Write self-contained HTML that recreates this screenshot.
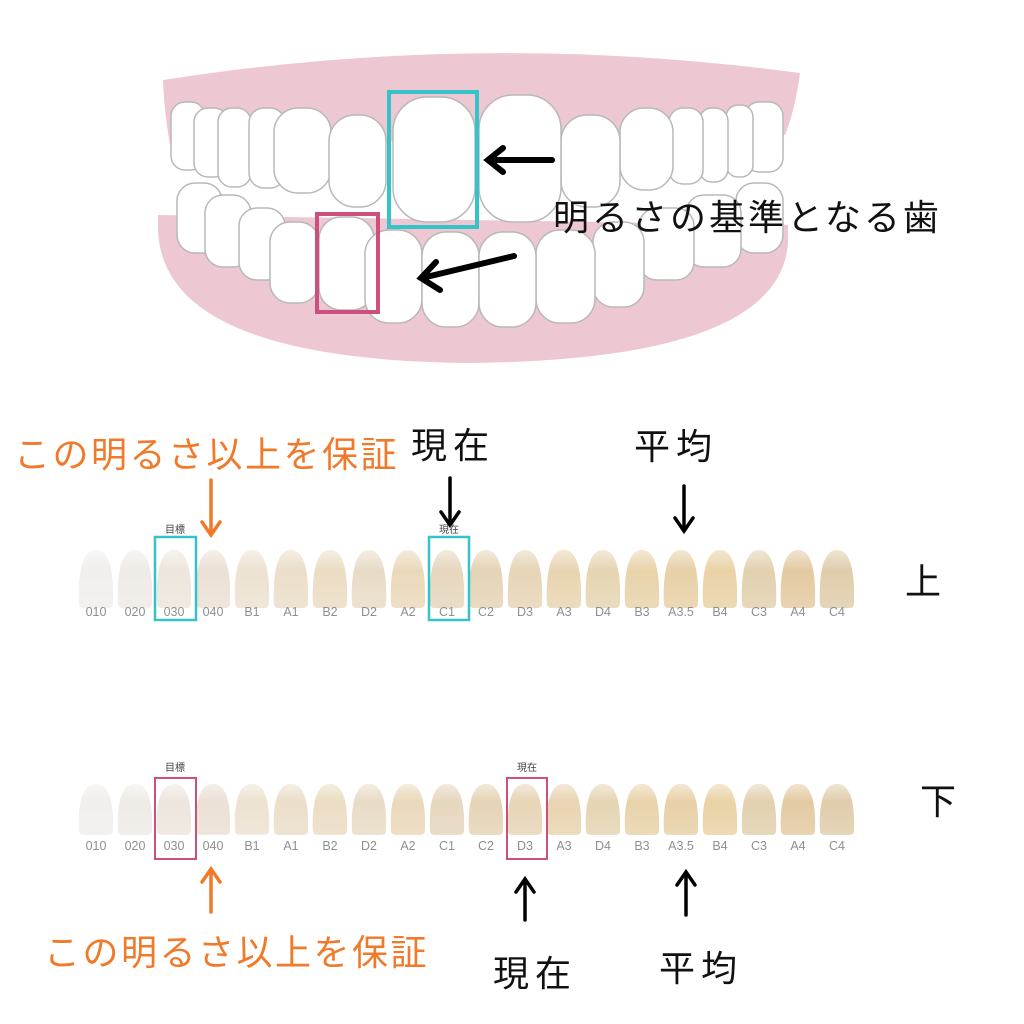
<!DOCTYPE html>
<html><head><meta charset="utf-8"><style>
html,body{margin:0;padding:0;background:#fff;}
svg{display:block;}
.j{font-family:"Liberation Sans","Noto Sans CJK JP",sans-serif;}
.lab{font-family:"Liberation Sans",sans-serif;font-size:12.5px;fill:#8f8f8f;text-anchor:middle;}
</style></head><body>
<svg width="1024" height="1024" viewBox="0 0 1024 1024" xmlns="http://www.w3.org/2000/svg">
<defs>
<path id="tab" d="M-17,54 C-18,28 -15,1 0,1 C15,1 18,28 17,54 Q17,59 12,59 L-12,59 Q-17,59 -17,54Z"/>
<linearGradient id="hl" x1="0" y1="0" x2="0" y2="1">
<stop offset="0" stop-color="#fff" stop-opacity="0.55"/>
<stop offset="0.35" stop-color="#fff" stop-opacity="0.1"/>
<stop offset="1" stop-color="#fff" stop-opacity="0.25"/>
</linearGradient>
</defs>

<!-- gums -->
<path d="M163,80 Q480,30 800,73 Q795,110 785,135 L170,145 Q164,110 163,80 Z" fill="#edc8d3"/>
<path d="M158,228 Q160,360 470,363 Q780,360 788,243 L788,225 L158,215 Z" fill="#edc8d3"/>

<g fill="#fff" stroke="#b8b8b8" stroke-width="1.5">
<!-- lower teeth -->
<rect x="177" y="183" width="45" height="70" rx="18"/>
<rect x="736" y="183" width="47" height="70" rx="18"/>
<rect x="205" y="195" width="46" height="72" rx="18"/>
<rect x="686" y="195" width="55" height="72" rx="18"/>
<rect x="239" y="208" width="46" height="72" rx="18"/>
<rect x="639" y="208" width="55" height="72" rx="18"/>
<rect x="270" y="222" width="49" height="81" rx="20"/>
<rect x="593" y="222" width="51" height="85" rx="20"/>
<rect x="319" y="217" width="55" height="93" rx="22"/>
<rect x="536" y="230" width="59" height="93" rx="24"/>
<rect x="365" y="230" width="57" height="93" rx="24"/>
<rect x="422" y="232" width="57" height="95" rx="24"/>
<rect x="479" y="232" width="57" height="95" rx="24"/>
<!-- upper teeth -->
<rect x="171" y="102" width="34" height="68" rx="14"/>
<rect x="745" y="102" width="38" height="70" rx="14"/>
<rect x="194" y="108" width="34" height="69" rx="14"/>
<rect x="726" y="105" width="27" height="72" rx="12"/>
<rect x="218" y="108" width="33" height="79" rx="14"/>
<rect x="699" y="108" width="29" height="74" rx="13"/>
<rect x="249" y="108" width="36" height="80" rx="15"/>
<rect x="669" y="108" width="34" height="76" rx="14"/>
<rect x="274" y="108" width="57" height="85" rx="24"/>
<rect x="620" y="108" width="53" height="82" rx="24"/>
<rect x="329" y="115" width="57" height="92" rx="26"/>
<rect x="561" y="115" width="59" height="92" rx="26"/>
<rect x="393" y="97" width="82" height="125" rx="34"/>
<rect x="479" y="95" width="82" height="127" rx="34"/>
</g>
<rect x="389" y="92" width="88" height="135" fill="none" stroke="#35c3c8" stroke-width="4"/>
<rect x="317" y="214" width="61" height="98" fill="none" stroke="#cc4f7d" stroke-width="4"/>
<g stroke="#000" stroke-width="6" stroke-linecap="round" fill="none">
<line x1="552" y1="160" x2="488" y2="160"/>
<polyline points="503,148 488,160 503,172"/>
<line x1="514" y1="256" x2="422" y2="278"/>
<polyline points="436,262 421,278 440,290"/>
</g>
<text x="553" y="230" class="j" font-size="36" letter-spacing="3" fill="#111">明るさの基準となる歯</text>

<text x="14" y="467" class="j" font-size="36" letter-spacing="2.5" fill="#f07a2a">この明るさ以上を保証</text>
<text x="411" y="458" class="j" font-size="36" letter-spacing="6" fill="#111">現在</text>
<text x="634" y="459" class="j" font-size="36" letter-spacing="6" fill="#111">平均</text>
<g stroke-width="3.5" stroke-linecap="round" fill="none">
<line x1="211" y1="480" x2="211" y2="534" stroke="#f07a2a"/>
<polyline points="202,522 211,535 220,522" stroke="#f07a2a"/>
<line x1="450" y1="478" x2="450" y2="524" stroke="#000"/>
<polyline points="441,512 450,525 459,512" stroke="#000"/>
<line x1="684" y1="486" x2="684" y2="530" stroke="#000"/>
<polyline points="675,518 684,531 693,518" stroke="#000"/>
<line x1="211" y1="870" x2="211" y2="912" stroke="#f07a2a"/>
<polyline points="202,882 211,869 220,882" stroke="#f07a2a"/>
<line x1="525" y1="880" x2="525" y2="920" stroke="#000"/>
<polyline points="516,892 525,879 534,892" stroke="#000"/>
<line x1="686" y1="873" x2="686" y2="915" stroke="#000"/>
<polyline points="677,885 686,872 695,885" stroke="#000"/>
</g>
<text x="905" y="594" class="j" font-size="36" fill="#111">上</text>
<text x="920" y="814" class="j" font-size="36" fill="#111">下</text>
<text x="44" y="965" class="j" font-size="36" letter-spacing="2.5" fill="#f07a2a">この明るさ以上を保証</text>
<text x="493" y="986" class="j" font-size="36" letter-spacing="6" fill="#111">現在</text>
<text x="659" y="981" class="j" font-size="36" letter-spacing="6" fill="#111">平均</text>

<g transform="translate(0,549)">
<use href="#tab" x="96" fill="#efedeb"/><use href="#tab" x="135" fill="#ede9e4"/><use href="#tab" x="174" fill="#ebe3da"/><use href="#tab" x="213" fill="#e9ddd0"/><use href="#tab" x="252" fill="#eadfcc"/><use href="#tab" x="291" fill="#e9dac4"/><use href="#tab" x="330" fill="#e9d9bd"/><use href="#tab" x="369" fill="#e6d8c0"/><use href="#tab" x="408" fill="#e8d4b3"/><use href="#tab" x="447" fill="#e3d2b6"/><use href="#tab" x="486" fill="#e2cfae"/><use href="#tab" x="525" fill="#e4d0ae"/><use href="#tab" x="564" fill="#e6cfa8"/><use href="#tab" x="603" fill="#e2d0aa"/><use href="#tab" x="642" fill="#e6cea0"/><use href="#tab" x="681" fill="#e5cb9e"/><use href="#tab" x="720" fill="#e7cd9c"/><use href="#tab" x="759" fill="#dfcba6"/><use href="#tab" x="798" fill="#e0c498"/><use href="#tab" x="837" fill="#dcc7a2"/>
<g fill="url(#hl)"><use href="#tab" x="96"/><use href="#tab" x="135"/><use href="#tab" x="174"/><use href="#tab" x="213"/><use href="#tab" x="252"/><use href="#tab" x="291"/><use href="#tab" x="330"/><use href="#tab" x="369"/><use href="#tab" x="408"/><use href="#tab" x="447"/><use href="#tab" x="486"/><use href="#tab" x="525"/><use href="#tab" x="564"/><use href="#tab" x="603"/><use href="#tab" x="642"/><use href="#tab" x="681"/><use href="#tab" x="720"/><use href="#tab" x="759"/><use href="#tab" x="798"/><use href="#tab" x="837"/></g>
</g>
<g>
<text x="96" y="616" class="lab">010</text><text x="135" y="616" class="lab">020</text><text x="174" y="616" class="lab">030</text><text x="213" y="616" class="lab">040</text><text x="252" y="616" class="lab">B1</text><text x="291" y="616" class="lab">A1</text><text x="330" y="616" class="lab">B2</text><text x="369" y="616" class="lab">D2</text><text x="408" y="616" class="lab">A2</text><text x="447" y="616" class="lab">C1</text><text x="486" y="616" class="lab">C2</text><text x="525" y="616" class="lab">D3</text><text x="564" y="616" class="lab">A3</text><text x="603" y="616" class="lab">D4</text><text x="642" y="616" class="lab">B3</text><text x="681" y="616" class="lab">A3.5</text><text x="720" y="616" class="lab">B4</text><text x="759" y="616" class="lab">C3</text><text x="798" y="616" class="lab">A4</text><text x="837" y="616" class="lab">C4</text>
</g>
<text x="175" y="533" class="j" font-size="10" fill="#444" text-anchor="middle">目標</text>
<text x="449" y="533" class="j" font-size="10" fill="#444" text-anchor="middle">現在</text>
<rect x="155" y="537" width="41" height="83" fill="none" stroke="#35c3c8" stroke-width="2.5"/>
<rect x="429" y="537" width="40" height="83" fill="none" stroke="#35c3c8" stroke-width="2.5"/>

<g transform="translate(0,783) scale(1,0.88)">
<use href="#tab" x="96" fill="#efedeb"/><use href="#tab" x="135" fill="#ede9e4"/><use href="#tab" x="174" fill="#ebe3da"/><use href="#tab" x="213" fill="#e9ddd0"/><use href="#tab" x="252" fill="#eadfcc"/><use href="#tab" x="291" fill="#e9dac4"/><use href="#tab" x="330" fill="#e9d9bd"/><use href="#tab" x="369" fill="#e6d8c0"/><use href="#tab" x="408" fill="#e8d4b3"/><use href="#tab" x="447" fill="#e3d2b6"/><use href="#tab" x="486" fill="#e2cfae"/><use href="#tab" x="525" fill="#e4d0ae"/><use href="#tab" x="564" fill="#e6cfa8"/><use href="#tab" x="603" fill="#e2d0aa"/><use href="#tab" x="642" fill="#e6cea0"/><use href="#tab" x="681" fill="#e5cb9e"/><use href="#tab" x="720" fill="#e7cd9c"/><use href="#tab" x="759" fill="#dfcba6"/><use href="#tab" x="798" fill="#e0c498"/><use href="#tab" x="837" fill="#dcc7a2"/>
<g fill="url(#hl)"><use href="#tab" x="96"/><use href="#tab" x="135"/><use href="#tab" x="174"/><use href="#tab" x="213"/><use href="#tab" x="252"/><use href="#tab" x="291"/><use href="#tab" x="330"/><use href="#tab" x="369"/><use href="#tab" x="408"/><use href="#tab" x="447"/><use href="#tab" x="486"/><use href="#tab" x="525"/><use href="#tab" x="564"/><use href="#tab" x="603"/><use href="#tab" x="642"/><use href="#tab" x="681"/><use href="#tab" x="720"/><use href="#tab" x="759"/><use href="#tab" x="798"/><use href="#tab" x="837"/></g>
</g>
<g>
<text x="96" y="850" class="lab">010</text><text x="135" y="850" class="lab">020</text><text x="174" y="850" class="lab">030</text><text x="213" y="850" class="lab">040</text><text x="252" y="850" class="lab">B1</text><text x="291" y="850" class="lab">A1</text><text x="330" y="850" class="lab">B2</text><text x="369" y="850" class="lab">D2</text><text x="408" y="850" class="lab">A2</text><text x="447" y="850" class="lab">C1</text><text x="486" y="850" class="lab">C2</text><text x="525" y="850" class="lab">D3</text><text x="564" y="850" class="lab">A3</text><text x="603" y="850" class="lab">D4</text><text x="642" y="850" class="lab">B3</text><text x="681" y="850" class="lab">A3.5</text><text x="720" y="850" class="lab">B4</text><text x="759" y="850" class="lab">C3</text><text x="798" y="850" class="lab">A4</text><text x="837" y="850" class="lab">C4</text>
</g>
<text x="175" y="771" class="j" font-size="10" fill="#444" text-anchor="middle">目標</text>
<text x="527" y="771" class="j" font-size="10" fill="#444" text-anchor="middle">現在</text>
<rect x="155" y="778" width="41" height="81" fill="none" stroke="#cc4f7d" stroke-width="2"/>
<rect x="507" y="778" width="40" height="81" fill="none" stroke="#cc4f7d" stroke-width="2"/>
</svg>
</body></html>
